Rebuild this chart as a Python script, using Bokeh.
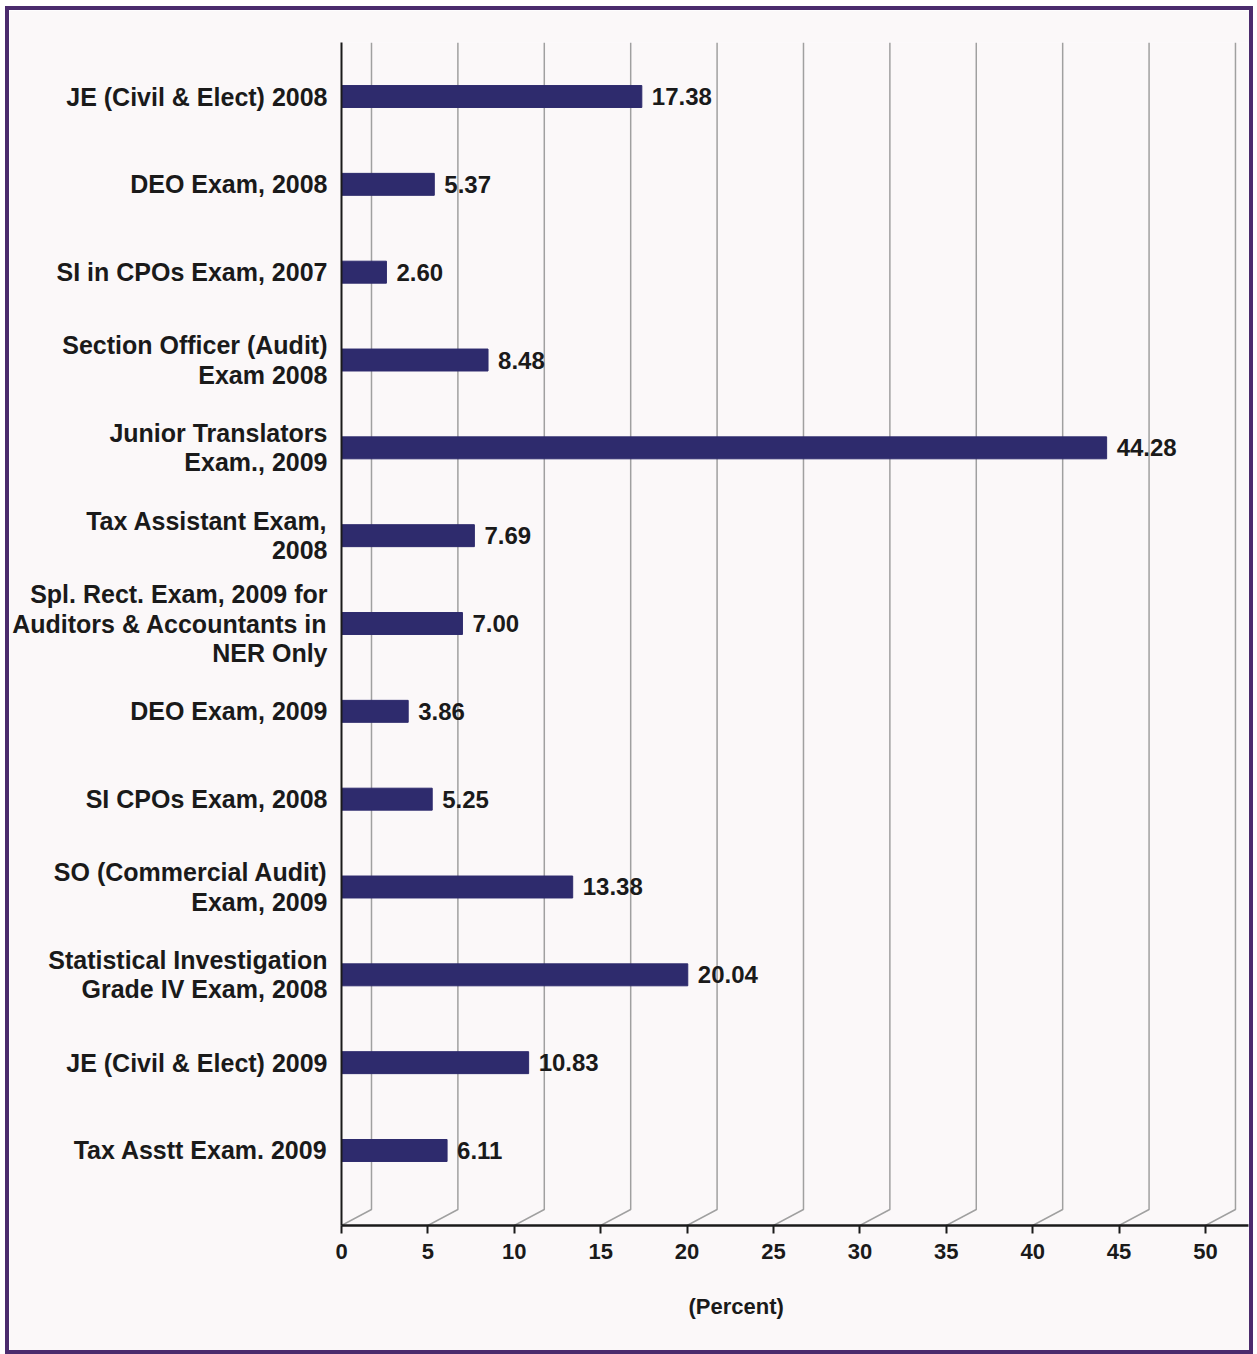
from bokeh.plotting import figure
from bokeh.models import Range1d, FixedTicker, ColumnDataSource, Title
from bokeh.core.properties import value
from bokeh.embed import file_html
from bokeh.resources import INLINE

categories = [
    "JE (Civil & Elect) 2008",
    "DEO Exam, 2008",
    "SI in CPOs Exam, 2007",
    "Section Officer (Audit)\nExam 2008",
    "Junior Translators\nExam., 2009",
    "Tax Assistant Exam,\n2008",
    "Spl. Rect. Exam, 2009 for\nAuditors & Accountants in\nNER Only",
    "DEO Exam, 2009",
    "SI CPOs Exam, 2008",
    "SO (Commercial Audit)\nExam, 2009",
    "Statistical Investigation\nGrade IV Exam, 2008",
    "JE (Civil & Elect) 2009",
    "Tax Asstt Exam. 2009",
]
values = [17.38, 5.37, 2.60, 8.48, 44.28, 7.69, 7.00, 3.86, 5.25, 13.38, 20.04, 10.83, 6.11]
x_ticks = [0, 5, 10, 15, 20, 25, 30, 35, 40, 45, 50]
x_title = "(Percent)"

FONT = "Liberation Sans"
BG = "#fbf8f9"
BAR = "#2e2b6d"
INK = "#1a1a1a"

n = len(categories)
ypos = list(range(n))
x_end = 52.49
y_bottom = 12.854
y_top = -0.615

p = figure(frame_width=907, frame_height=1183,
           x_range=Range1d(0, x_end), y_range=Range1d(y_bottom, y_top),
           output_backend="svg", toolbar_location=None,
           min_border_left=332, min_border_right=1, min_border_top=32, min_border_bottom=125,
           background_fill_color=BG, border_fill_color=BG, outline_line_color=None)
p.styles = {"border": "4px solid #4b2b6d", "margin": "6px 0 0 5px"}
p.xgrid.visible = False
p.ygrid.visible = False

# 3D-style back-wall gridlines
dx = 1.736
dy = 0.182
gx = [[t, t + dx, t + dx] for t in x_ticks]
gy = [[y_bottom, y_bottom - dy, y_top] for t in x_ticks]
p.multi_line(gx, gy, line_color="#a0a0a0", line_width=1.5)

src = ColumnDataSource(dict(y=ypos, v=values, lab=[f"{v:.2f}" for v in values]))
p.hbar(y="y", left=0, right="v", height=0.25, source=src, fill_color=BAR, line_color=BAR)
p.text(x="v", y="y", text="lab", source=src, x_offset=10, text_baseline="middle",
       text_font=value(FONT), text_font_style="bold", text_font_size="24px", text_color=INK)

# y axis
p.yaxis.ticker = FixedTicker(ticks=ypos)
p.yaxis.major_label_overrides = {i: c for i, c in zip(ypos, categories)}
p.yaxis.major_tick_line_color = None
p.yaxis.major_tick_out = 0
p.yaxis.major_tick_in = 0
p.yaxis.minor_tick_line_color = None
p.yaxis.major_label_standoff = 14
p.yaxis.major_label_text_font = FONT
p.yaxis.major_label_text_font_style = "bold"
p.yaxis.major_label_text_font_size = "25px"
p.yaxis.major_label_text_color = INK
p.yaxis.major_label_text_line_height = 1.04
p.yaxis.axis_line_color = INK
p.yaxis.axis_line_width = 2

# x axis
p.xaxis.ticker = FixedTicker(ticks=x_ticks)
p.xaxis.minor_tick_line_color = None
p.xaxis.major_tick_in = 0
p.xaxis.major_tick_out = 8
p.xaxis.major_tick_line_width = 2
p.xaxis.major_tick_line_color = INK
p.xaxis.axis_line_color = INK
p.xaxis.axis_line_width = 2.5
p.xaxis.major_label_standoff = 10
p.xaxis.major_label_text_font = FONT
p.xaxis.major_label_text_font_style = "bold"
p.xaxis.major_label_text_font_size = "22px"
p.xaxis.major_label_text_color = INK

p.add_layout(Title(text=x_title, align="left", offset=347, standoff=60,
                   text_font=FONT, text_font_style="bold", text_font_size="22px",
                   text_color=INK), "below")

open("out.html", "w").write(file_html(p, INLINE))
